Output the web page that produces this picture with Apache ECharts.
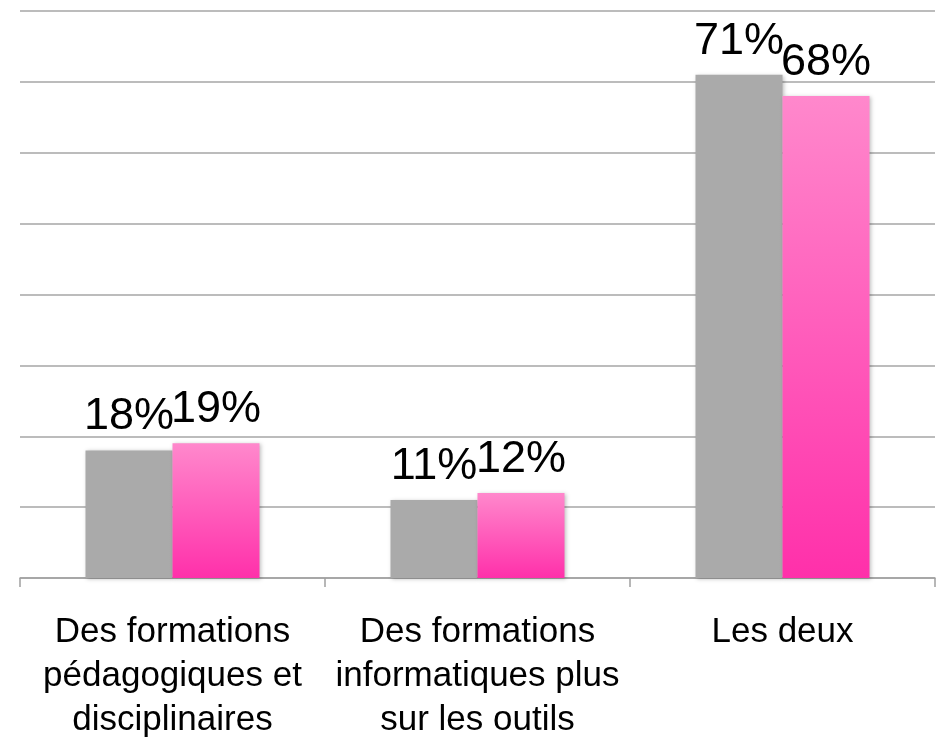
<!DOCTYPE html>
<html>
<head>
<meta charset="utf-8">
<script src="https://cdn.jsdelivr.net/npm/echarts@6/dist/echarts.min.js"></script>
<style>
  html, body { margin: 0; padding: 0; background: #fff; }
  #chart { width: 939px; height: 742px; }
</style>
</head>
<body>
<div id="chart"></div>
<script>
// catégories et valeurs (%)
const categories = [
  "Des formations\npédagogiques et\ndisciplinaires",
  "Des formations\ninformatiques plus\nsur les outils",
  "Les deux"
];
const greyValues = [18, 11, 71];
const pinkValues = [19, 12, 68];

const font = "'Liberation Sans', Arial, Helvetica, sans-serif";

const myChart = echarts.init(document.getElementById("chart"));

const valueLabel = {
  show: true,
  position: "top",
  distance: 11,
  formatter: "{c}%",
  color: "#000",
  fontSize: 45,
  fontFamily: font,
};

myChart.setOption({
  animation: false,
  grid: { left: 20, right: 4, top: 11, bottom: 162 },
  xAxis: {
    type: "category",
    data: categories,
    axisLine: { lineStyle: { color: "#a0a0a0", width: 1.5 } },
    axisTick: { show: true, length: 9, lineStyle: { color: "#a0a0a0", width: 1.5 } },
    axisLabel: {
      color: "#000",
      fontSize: 35,
      lineHeight: 44,
      margin: 32,
      fontFamily: font,
      interval: 0,
    },
  },
  yAxis: {
    type: "value",
    min: 0,
    max: 80,
    interval: 10,
    axisLabel: { show: false },
    axisLine: { show: false },
    axisTick: { show: false },
    splitLine: { lineStyle: { color: "#a6a6a6", width: 1.5 } },
  },
  series: [
    {
      type: "bar",
      data: greyValues,
      barWidth: 87,
      barGap: "0%",
      itemStyle: {
        color: "#aaaaaa",
        shadowColor: "rgba(0,0,0,0.25)",
        shadowBlur: 4,
        shadowOffsetX: 1,
        shadowOffsetY: 1,
      },
      label: valueLabel,
    },
    {
      type: "bar",
      data: pinkValues,
      barWidth: 87,
      itemStyle: {
        color: new echarts.graphic.LinearGradient(0, 0, 0, 1, [
          { offset: 0, color: "#ff88cc" },
          { offset: 1, color: "#ff30aa" },
        ]),
        shadowColor: "rgba(0,0,0,0.25)",
        shadowBlur: 4,
        shadowOffsetX: 1,
        shadowOffsetY: 1,
      },
      label: valueLabel,
    },
  ],
});
window.addEventListener("resize", function () {
  myChart.resize();
});
</script>
</body>
</html>
